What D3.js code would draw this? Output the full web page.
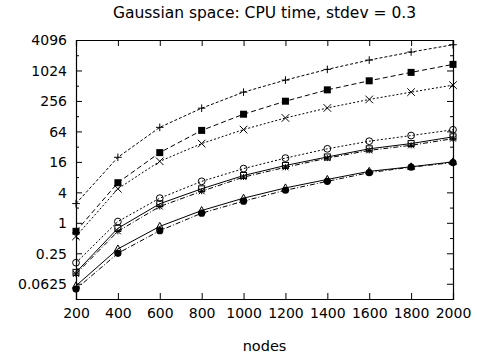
<!DOCTYPE html>
<html><head><meta charset="utf-8">
<script src="https://cdn.jsdelivr.net/npm/d3@7"></script>
<style>body{margin:0;background:#fff;}svg{display:block;font-family:"DejaVu Sans",sans-serif;}</style>
</head><body><svg id="c" width="477" height="356"></svg>
<script>
const nodes = [200,400,600,800,1000,1200,1400,1600,1800,2000];
const plusS    = [2.4, 19.7, 77, 184, 382, 661, 1077, 1643, 2370, 3300];
const fsquareS = [0.68, 6.2, 24.4, 67, 140, 253, 424, 640, 938, 1351];
const crossS   = [0.54, 4.7, 16.4, 36.8, 69.6, 118, 186, 274, 382, 526];
const ocircleS = [0.163, 1.06, 3.07, 6.6, 11.8, 19, 29, 41, 53, 69];
const osquareS = [0.105, 0.78, 2.38, 4.7, 8.6, 13.6, 20, 29, 36.8, 50];
const starS    = [0.098, 0.68, 2.1, 4.2, 8.0, 12.5, 19, 27, 34, 46];
const triS     = [0.057, 0.305, 0.85, 1.75, 3.07, 4.9, 7.2, 10.4, 12.8, 16];
const fcircleS = [0.049, 0.25, 0.70, 1.55, 2.68, 4.4, 6.6, 9.8, 12.6, 15.5];
const yTickLabels = ["0.0625","0.25","1","4","16","64","256","1024","4096"];
const title = "Gaussian space: CPU time, stdev = 0.3";
const xTitle = "nodes";

const series = [
  {v: plusS, m: "plus", dash: "3,2"},
  {v: fsquareS, m: "fsquare", dash: "5,3"},
  {v: crossS, m: "cross", dash: "2,2"},
  {v: ocircleS, m: "ocircle", dash: "2,2"},
  {v: osquareS, m: "osquare", dash: null},
  {v: starS, m: "star", dash: "5,2,1,2"},
  {v: triS, m: "tri", dash: null},
  {v: fcircleS, m: "fcircle", dash: "5,2,1,2"}
];

const L=76, R=453, T=40, B=299;
const FONT = "'DejaVu Sans',sans-serif";
const svg = d3.select("#c");
const x = d3.scaleLinear().domain([200,2000]).range([L,R]);
const y = d3.scaleLog().base(2).domain([Math.pow(2,-5), 4096]).range([B,T]);

svg.append("text").attr("x",(L+R)/2).attr("y",18).attr("text-anchor","middle")
  .attr("font-size",15.5).attr("font-family",FONT).text(title);
svg.append("text").attr("x",(L+R)/2).attr("y",351).attr("text-anchor","middle")
  .attr("font-size",14.5).attr("font-family",FONT).text(xTitle);

// axes
const xb = d3.axisBottom(x).tickValues(nodes).tickSize(-6).tickPadding(9).tickFormat(d3.format("d"));
const gx = svg.append("g").attr("transform",`translate(0,${B})`).call(xb);
const gxt = svg.append("g").attr("transform",`translate(0,${T})`).call(d3.axisTop(x).tickValues(nodes).tickSize(-6).tickFormat(""));

const yVals = d3.range(-5,13).map(e=>Math.pow(2,e));
const yMajor = yTickLabels.map(Number);
function yAxis(g, axisFn) {
  g.call(axisFn(y).tickValues(yVals).tickSize(-6).tickPadding(9)
    .tickFormat(d => { const i = yMajor.indexOf(d); return i>=0 ? yTickLabels[i] : ""; }));
  g.selectAll(".tick line").attr("x2", d => (yMajor.indexOf(d)>=0 ? 1 : 0.5) * (axisFn===d3.axisLeft?6:-6));
}
const gy = svg.append("g").attr("transform",`translate(${L},0)`);
yAxis(gy, d3.axisLeft);
const gyr = svg.append("g").attr("transform",`translate(${R},0)`);
yAxis(gyr, d3.axisRight);
gyr.selectAll("text").remove();
gxt.selectAll("text").remove();

svg.selectAll(".domain").attr("stroke","#000").attr("stroke-width",1.2);
svg.selectAll(".tick line").attr("stroke","#000");
svg.selectAll(".tick text").attr("font-size",14).attr("fill","#000").attr("font-family",FONT);
gy.selectAll(".tick text").attr("dy","0.35em");

const line = d3.line().x((d,i)=>x(nodes[i])).y(d=>y(d));
const plot = svg.append("g");
function marker(g, m, cx, cy) {
  const s = 3.8;
  if (m==="plus") g.append("path").attr("d",`M${cx-s},${cy}H${cx+s}M${cx},${cy-s}V${cy+s}`).attr("stroke","#000").attr("fill","none");
  else if (m==="cross") g.append("path").attr("d",`M${cx-s},${cy-s}L${cx+s},${cy+s}M${cx-s},${cy+s}L${cx+s},${cy-s}`).attr("stroke","#000").attr("fill","none");
  else if (m==="star") g.append("path").attr("d",`M${cx-3},${cy}H${cx+3}M${cx},${cy-3}V${cy+3}M${cx-3},${cy-3}L${cx+3},${cy+3}M${cx-3},${cy+3}L${cx+3},${cy-3}`).attr("stroke","#000").attr("fill","none");
  else if (m==="fsquare") g.append("rect").attr("x",cx-3.5).attr("y",cy-3.5).attr("width",7).attr("height",7).attr("fill","#000");
  else if (m==="osquare") g.append("rect").attr("x",cx-3).attr("y",cy-3).attr("width",6).attr("height",6).attr("fill","none").attr("stroke","#000");
  else if (m==="ocircle") g.append("circle").attr("cx",cx).attr("cy",cy).attr("r",3.4).attr("fill","none").attr("stroke","#000");
  else if (m==="fcircle") g.append("circle").attr("cx",cx).attr("cy",cy).attr("r",3.6).attr("fill","#000");
  else if (m==="tri") g.append("path").attr("d",`M${cx},${cy-4}L${cx+3.6},${cy+2.5}L${cx-3.6},${cy+2.5}Z`).attr("fill","none").attr("stroke","#000");
}
series.forEach(s => {
  plot.append("path").datum(s.v).attr("d",line).attr("fill","none").attr("stroke","#000")
    .attr("stroke-width",1).attr("stroke-dasharray",s.dash);
  s.v.forEach((v,i)=>marker(plot, s.m, x(nodes[i]), y(v)));
});
</script></body></html>
